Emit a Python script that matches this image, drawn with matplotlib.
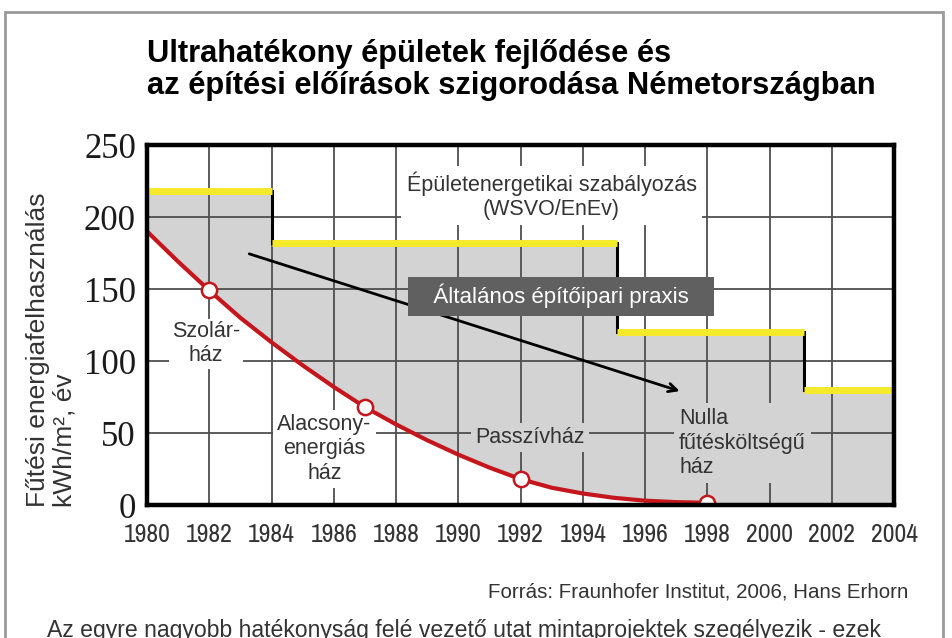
import matplotlib
matplotlib.use('Agg')
import matplotlib.pyplot as plt
from matplotlib import font_manager as fm
from matplotlib.patches import Rectangle

# --- data ------------------------------------------------------------------
curve_years = [1980, 1981, 1982, 1983, 1984, 1985, 1986, 1987, 1988, 1989,
               1990, 1991, 1992, 1993, 1994, 1995, 1996, 1997, 1998]
curve_values = [190, 169, 149, 130, 113, 97, 82, 68, 56, 45,
                35, 26, 18, 12, 8, 5, 3, 2, 1.5]

marker_years = [1982, 1987, 1992, 1998]
marker_values = [149, 68, 18, 1.5]

# building regulation (WSVO/EnEv) steps
step_edges = [1980, 1984, 1995.1, 2001.1, 2004]
step_levels = [218, 182, 120, 80]

x_ticks = list(range(1980, 2005, 2))
y_ticks = [0, 50, 100, 150, 200, 250]

RED = '#c4161c'
YELLOW = '#f4e92b'
FILL = '#d3d3d3'
GRID = '#4f4f4f'
TXT = '#333333'


def pick_family(prefs, weight=400):
    avail = {}
    for f in fm.fontManager.ttflist:
        avail.setdefault(f.name, set()).add(f.weight)
    for name in prefs:
        ws = [w for w in avail.get(name, []) if isinstance(w, int)]
        if any(abs(w - weight) <= 100 for w in ws):
            return name
    return 'DejaVu Sans'


narrow = [pick_family(['Archivo Narrow', 'Roboto Condensed', 'Barlow Semi Condensed']),
          'DejaVu Sans']
sans = ['Liberation Sans', 'DejaVu Sans']
serif = ['Liberation Serif', 'DejaVu Serif']

fig = plt.figure(figsize=(9.52, 6.38), dpi=100)
fig.patch.set_facecolor('white')

# outer border of the page
fig.add_artist(Rectangle((5 / 952, -0.05), 938 / 952, 1.05 - 12 / 638,
                         transform=fig.transFigure, fill=False,
                         edgecolor='#9a9a9a', linewidth=2))

ax = fig.add_axes([147 / 952, 133 / 638, 747 / 952, 360 / 638])

# gray band between the regulation steps and the best-practice curve
poly_x, poly_y = [], []
for i, lvl in enumerate(step_levels):
    poly_x += [step_edges[i], step_edges[i + 1]]
    poly_y += [lvl, lvl]
poly_x += [step_edges[-1], curve_years[-1]]
poly_y += [0, 0]
poly_x += curve_years[::-1]
poly_y += curve_values[::-1]
ax.fill(poly_x, poly_y, color=FILL, zorder=0.2, linewidth=0)

# black step edges, yellow level bars
for i in range(1, len(step_levels)):
    ax.plot([step_edges[i], step_edges[i]], [step_levels[i - 1], step_levels[i]],
            color='black', linewidth=2.2, zorder=2.5)
for i, lvl in enumerate(step_levels):
    ax.plot([step_edges[i], step_edges[i + 1]], [lvl, lvl],
            color=YELLOW, linewidth=5, solid_capstyle='butt', zorder=2.6)

# best-practice curve
ax.plot(curve_years, curve_values, color=RED, linewidth=3, zorder=4)
ax.plot(marker_years, marker_values, 'o', color=RED, markerfacecolor='white',
        markeredgewidth=1.8, markersize=11, zorder=5)

# labels
ax.text(1993.0, 215, 'Épületenergetikai szabályozás\n(WSVO/EnEv)', ha='center',
        va='center', fontsize=15.5, color=TXT, family=sans, zorder=3,
        bbox=dict(boxstyle='square,pad=0.25', facecolor='white', edgecolor='none'))
ax.text(1993.3, 145, '   Általános építőipari praxis   ', ha='center', va='center',
        fontsize=16, color='white', family=sans, zorder=6,
        bbox=dict(boxstyle='square,pad=0.33', facecolor='#606060', edgecolor='none'))
ax.annotate('', xy=(1997.2, 78.5), xytext=(1983.2, 175), zorder=3.5,
            arrowprops=dict(arrowstyle='->,head_length=0.6,head_width=0.3',
                            color='black', linewidth=2))
ax.text(1981.9, 112, 'Szolár-\nház', ha='center', va='center', fontsize=15.5,
        color=TXT, family=sans, zorder=3,
        bbox=dict(boxstyle='square,pad=0.12', facecolor='white', edgecolor='none'))
ax.text(1985.7, 39, 'Alacsony-\nenergiás\nház', ha='center', va='center',
        fontsize=15.5, color=TXT, family=sans, zorder=3,
        bbox=dict(boxstyle='square,pad=0.2', facecolor='white', edgecolor='none'))
ax.text(1992.3, 47, 'Passzívház', ha='center', va='center', fontsize=15.5,
        color=TXT, family=sans, zorder=3,
        bbox=dict(boxstyle='square,pad=0.2', facecolor=FILL, edgecolor='none'))
ax.text(1997.1, 43, 'Nulla\nfűtésköltségű\nház', ha='left', va='center',
        multialignment='left', fontsize=15.5, color=TXT, family=sans, zorder=3,
        bbox=dict(boxstyle='square,pad=0.25', facecolor=FILL, edgecolor='none'))

# axes styling
ax.set_xlim(1980, 2004)
ax.set_ylim(0, 250)
ax.set_xticks(x_ticks)
ax.set_yticks(y_ticks)
ax.set_xticklabels([str(t) for t in x_ticks], family=narrow, fontsize=18.5, color='#333333')
ax.set_yticklabels([str(t) for t in y_ticks], family=serif, fontsize=25, color='#1a1a1a')
ax.tick_params(axis='both', length=0)
ax.tick_params(axis='x', pad=13)
ax.tick_params(axis='y', pad=8)
ax.set_axisbelow(True)
ax.grid(color=GRID, linewidth=1.3)
for sp in ax.spines.values():
    sp.set_linewidth(3.2)
    sp.set_color('black')
    sp.set_zorder(7)

ax.text(-0.128, 0.43, 'Fűtési energiafelhasználás\nkWh/m², év', transform=ax.transAxes,
        rotation=90, ha='center', va='center', multialignment='left',
        fontsize=19, color=TXT, family=sans, linespacing=1.1)

# title and footer
fig.text(147 / 952, 1 - 62 / 638, 'Ultrahatékony épületek fejlődése és',
         fontsize=22.2, fontweight='bold', family=sans, va='baseline')
fig.text(147 / 952, 1 - 94 / 638, 'az építési előírások szigorodása Németországban',
         fontsize=22.2, fontweight='bold', family=sans, va='baseline')
fig.text(908 / 952, 1 - 598 / 638, 'Forrás: Fraunhofer Institut, 2006, Hans Erhorn',
         fontsize=14.8, ha='right', va='baseline', family=sans, color=TXT)
fig.text(47 / 952, 1 - 637 / 638,
         'Az egyre nagyobb hatékonyság felé vezető utat mintaprojektek szegélyezik - ezek',
         fontsize=16.6, ha='left', va='baseline', family=sans, color=TXT)

fig.savefig('out.png', dpi=100, facecolor='white')
